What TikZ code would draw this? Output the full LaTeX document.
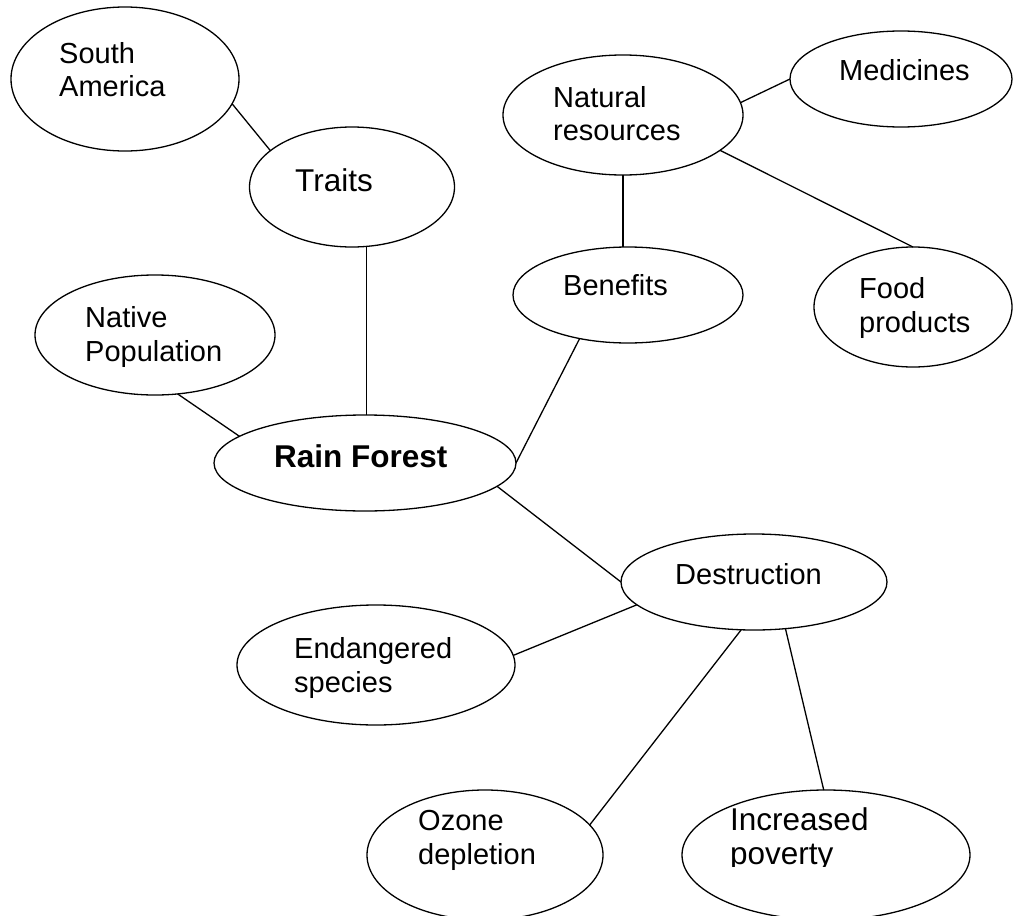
\documentclass[tikz,border=0pt]{standalone}
\usepackage{fontspec}
\setmainfont{Liberation Sans}
\usetikzlibrary{shapes.geometric}
\begin{document}
\begin{tikzpicture}[x=1pt,y=-1pt,
  oval/.style={draw, ellipse, inner sep=0pt, outer sep=0pt, line width=1.3pt},
  word/.style={anchor=base west, inner sep=0pt, font=\fontsize{29}{34}\selectfont},
  bigword/.style={anchor=base west, inner sep=0pt, font=\fontsize{31.5}{36}\selectfont},
  link/.style={line width=1.3pt}]
\fill[white] (0,0) rectangle (1013,916);
\useasboundingbox (0,0) rectangle (1013,916);

% ovals
\node[oval, minimum width=228pt, minimum height=144pt] (sa) at (125,79) {};
\node[oval, minimum width=205pt, minimum height=120pt] (tr) at (352,187) {};
\node[oval, minimum width=240pt, minimum height=120pt] (nr) at (623,115) {};
\node[oval, minimum width=222pt, minimum height=96pt]  (med) at (901,79) {};
\node[oval, minimum width=230pt, minimum height=96pt]  (bn) at (628,295) {};
\node[oval, minimum width=198pt, minimum height=120pt] (fd) at (913,307) {};
\node[oval, minimum width=240pt, minimum height=120pt] (np) at (155,335) {};
\node[oval, minimum width=302pt, minimum height=96pt]  (rf) at (365,463) {};
\node[oval, minimum width=266pt, minimum height=96pt]  (de) at (754,582) {};
\node[oval, minimum width=278pt, minimum height=120pt] (en) at (376,665) {};
\node[oval, minimum width=236pt, minimum height=130pt] (oz) at (485,855) {};
\node[oval, minimum width=288pt, minimum height=130pt] (pv) at (826,855) {};

% labels
\node[word] (sa1) at (59,63) {South};
\node[word] (sa2) at (59,96) {America};
\node[bigword] (tr1) at (295,191) {Traits};
\node[word] (nr1) at (553,107) {Natural};
\node[word] (nr2) at (553,140) {resources};
\node[word] (med1) at (839,80) {Medicines};
\node[word] (bn1) at (563,295) {Benefits};
\node[word] (fd1) at (859,298) {Food};
\node[word] (fd2) at (859,332) {products};
\node[word] (np1) at (85,327) {Native};
\node[word] (np2) at (85,361) {Population};
\node[bigword, font=\fontsize{31.5}{36}\selectfont\bfseries] (rf1) at (274,467) {Rain Forest};
\node[word] (de1) at (675,584) {Destruction};
\node[word] (en1) at (294,658) {Endangered};
\node[word] (en2) at (294,692) {species};
\node[word] (oz1) at (418,830) {Ozone};
\node[word] (oz2) at (418,864) {depletion};
\node[bigword] (pv1) at (730,830) {Increased};
\begin{scope}
  \clip (700,840) rectangle (920,866);
  \node[bigword] (pv2) at (730,864) {poverty};
\end{scope}

% connectors
\draw[link] (sa.-13) -- (tr.156);
\draw[link] (tr.-76) -- (tr.-76 |- rf.north);
\draw[link] (np.-69) -- (rf.168);
\draw[link] (rf.east) -- (bn.222);
\draw[link] (nr.south) -- (nr.south |- bn.north);
\draw[link] (nr.6) -- (med.west);
\draw[link] (nr.-20.6) -- (fd.north);
\draw[link] (rf.-10.7) -- (de.west);
\draw[link] (de.191.6) -- (en.4);
\draw[link] (de.-105.6) -- (oz.16);
\draw[link] (de.-56) -- (pv.92);
\end{tikzpicture}
\end{document}
